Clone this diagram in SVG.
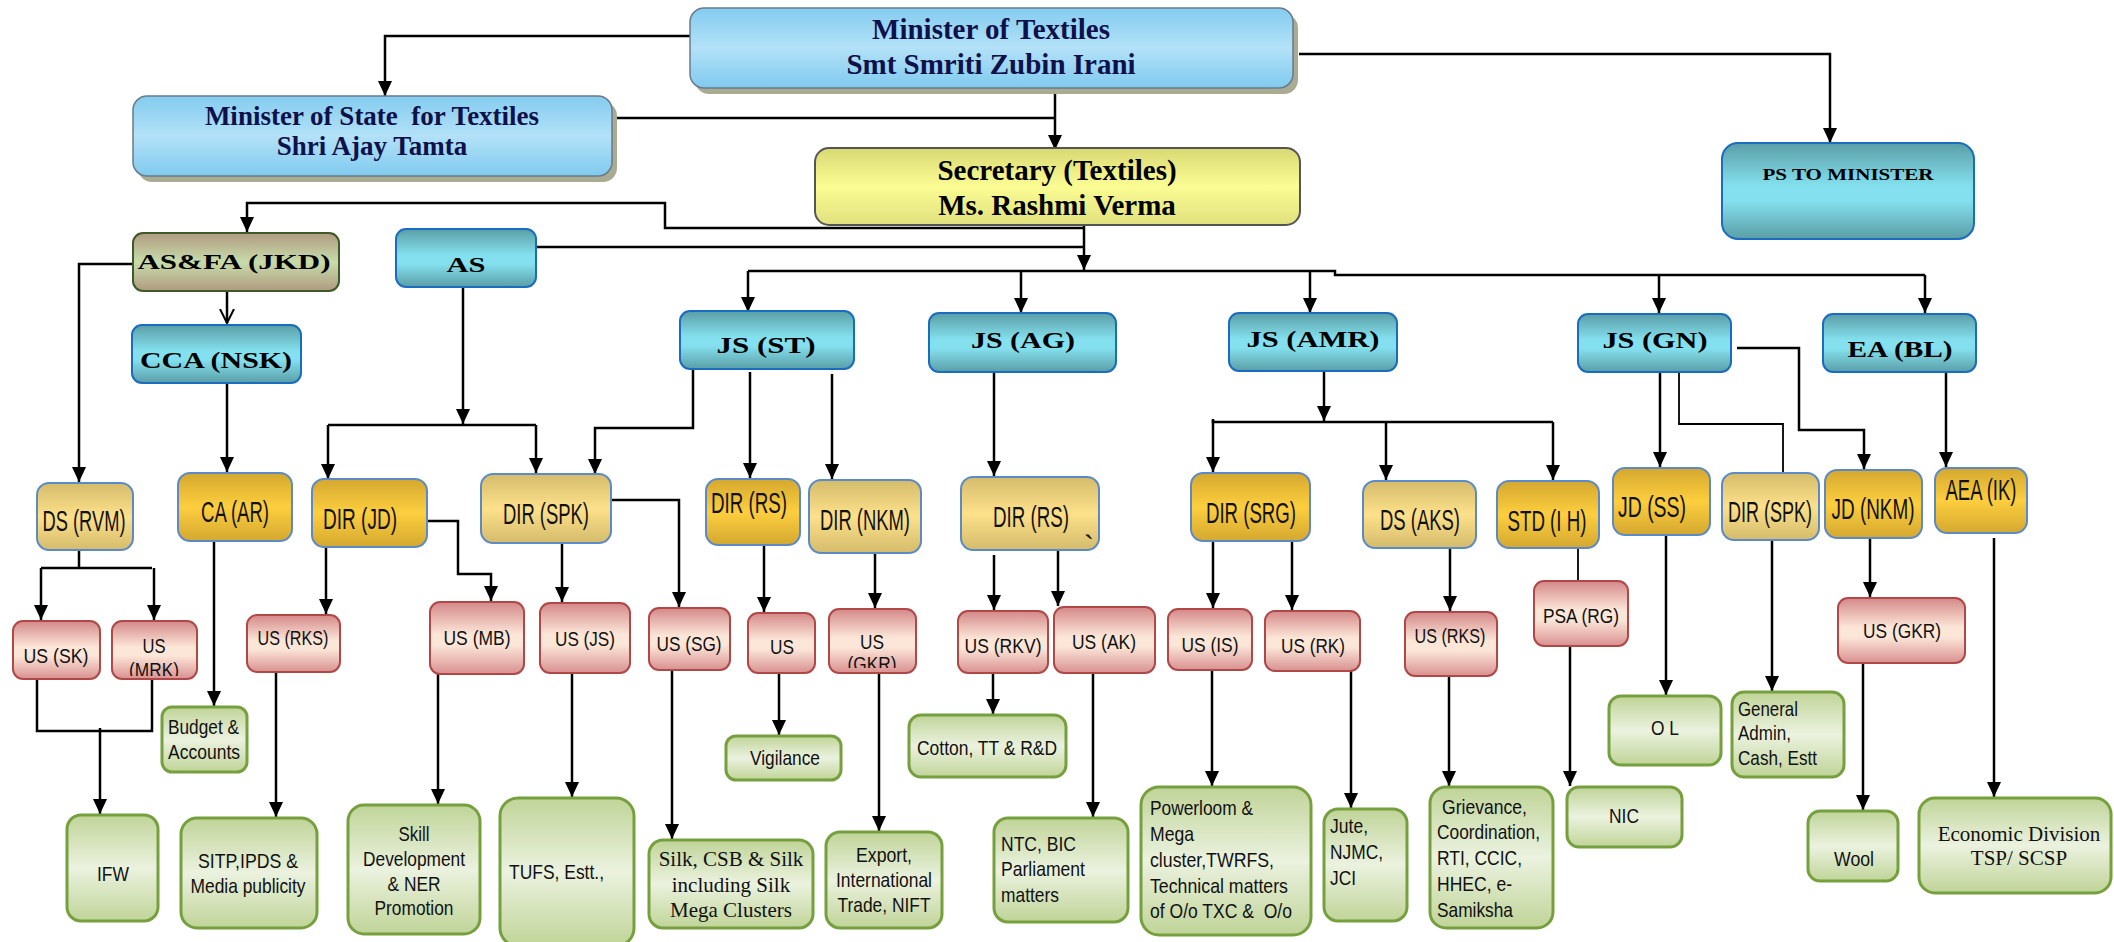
<svg xmlns="http://www.w3.org/2000/svg" width="2114" height="942" viewBox="0 0 2114 942">
<defs>
<linearGradient id="gBlue" x1="0" y1="0" x2="0" y2="1"><stop offset="0" stop-color="#84ccef"/><stop offset="0.5" stop-color="#b3e1f8"/><stop offset="1" stop-color="#80caee"/></linearGradient>
<linearGradient id="gYel" x1="0" y1="0" x2="0" y2="1"><stop offset="0" stop-color="#d9d974"/><stop offset="0.5" stop-color="#fcfc94"/><stop offset="1" stop-color="#e0e07e"/></linearGradient>
<linearGradient id="gTeal" x1="0" y1="0" x2="0" y2="1"><stop offset="0" stop-color="#5a9ea6"/><stop offset="0.45" stop-color="#84e0ee"/><stop offset="0.6" stop-color="#84e0ee"/><stop offset="1" stop-color="#5a9ea6"/></linearGradient>
<linearGradient id="gFa" x1="0" y1="0" x2="0" y2="1"><stop offset="0" stop-color="#b09a80"/><stop offset="0.5" stop-color="#c8dcaa"/><stop offset="1" stop-color="#b09a80"/></linearGradient>
<linearGradient id="gGold" x1="0" y1="0" x2="0" y2="1"><stop offset="0" stop-color="#d4a830"/><stop offset="0.5" stop-color="#fdce3e"/><stop offset="1" stop-color="#d4a830"/></linearGradient>
<linearGradient id="gTan" x1="0" y1="0" x2="0" y2="1"><stop offset="0" stop-color="#d4bc6c"/><stop offset="0.5" stop-color="#fde08a"/><stop offset="1" stop-color="#d4bc6c"/></linearGradient>
<linearGradient id="gPink" x1="0" y1="0" x2="0" y2="1"><stop offset="0" stop-color="#d48888"/><stop offset="0.45" stop-color="#fce6d8"/><stop offset="0.6" stop-color="#fce6d8"/><stop offset="1" stop-color="#d89090"/></linearGradient>
<linearGradient id="gGreen" x1="0" y1="0" x2="0" y2="1"><stop offset="0" stop-color="#c0d498"/><stop offset="0.5" stop-color="#ebf2df"/><stop offset="1" stop-color="#c0d498"/></linearGradient>
<marker id="ah" markerUnits="userSpaceOnUse" markerWidth="16" markerHeight="14" refX="15" refY="7" orient="auto"><path d="M0,0 L15,7 L0,14 z" fill="#000"/></marker>
<marker id="av" markerUnits="userSpaceOnUse" markerWidth="16" markerHeight="16" refX="14" refY="8" orient="auto"><path d="M0,1 L14,8 L0,15" fill="none" stroke="#000" stroke-width="2"/></marker>
<clipPath id="clipMRK"><rect x="112" y="621" width="85" height="55"/></clipPath>
<clipPath id="clipGKR"><rect x="829" y="609" width="87" height="59"/></clipPath>
</defs>
<style>
.c{fill:none;stroke:#000;stroke-width:2.5}
.a{marker-end:url(#ah)}
.thin{stroke-width:1.8}
.sh{fill:#a9ab93}
.blue{fill:url(#gBlue);stroke:#6a7a8a;stroke-width:1.5}
.yel{fill:url(#gYel);stroke:#555;stroke-width:2}
.teal{fill:url(#gTeal);stroke:#1a6cc0;stroke-width:2}
.fa{fill:url(#gFa);stroke:#3d5a28;stroke-width:2}
.gold{fill:url(#gGold);stroke:#5b8ac6;stroke-width:2}
.tan{fill:url(#gTan);stroke:#5b8ac6;stroke-width:2}
.pink{fill:url(#gPink);stroke:#b04848;stroke-width:2}
.green{fill:url(#gGreen);stroke:#76a03e;stroke-width:3}
.tm{font-family:"Liberation Serif","Times New Roman",serif;font-weight:bold;fill:#10104a;text-anchor:middle}
.tt{font-family:"Liberation Serif","Times New Roman",serif;font-weight:bold;fill:#000;text-anchor:middle}
.tg{font-family:"Liberation Sans","Arial",sans-serif;font-size:30px;fill:#111;text-anchor:middle}
.ts{font-family:"Liberation Sans","Arial",sans-serif;font-size:21px;fill:#111}
.mid{text-anchor:middle}
.tsr{font-family:"Liberation Serif","Times New Roman",serif;font-size:21px;fill:#111;text-anchor:middle}
</style>

<g id="connectors">
<path class="c a" d="M690,36 H385 V96"/>
<path class="c a" d="M1299,54 H1830 V143"/>
<path class="c a" d="M1055,88 V150"/>
<path class="c" d="M612,118 H1055"/>
<path class="c a" d="M1084,225 V270"/>
<path class="c a" d="M1084,228 H665 V203 H247 V232"/>
<path class="c" d="M536,247 H1084"/>
<path class="c" d="M748,271 H1335 V275 H1925"/>
<path class="c a" d="M748,271 V312"/>
<path class="c a" d="M1021,271 V313"/>
<path class="c a" d="M1310,271 V313"/>
<path class="c a" d="M1659,275 V313"/>
<path class="c a" d="M1925,275 V313"/>
<path class="c" d="M227,291 V323" marker-end="url(#av)"/>
<path class="c a" d="M133,264 H79 V482"/>
<path class="c a" d="M227,383 V472"/>
<path class="c a" d="M214,541 V706"/>
<path class="c a" d="M463,287 V424"/>
<path class="c" d="M328,425 H536"/>
<path class="c a" d="M328,425 V479"/>
<path class="c a" d="M536,425 V473"/>
<path class="c a" d="M693,369 V428 H595 V474"/>
<path class="c a" d="M750,372 V478"/>
<path class="c a" d="M832,374 V479"/>
<path class="c" d="M79,550 V568 M41,568 H152"/>
<path class="c a" d="M41,568 V620"/>
<path class="c a" d="M154,568 V620"/>
<path class="c" d="M37,679 V731 H152 V679"/>
<path class="c a" d="M100,728 V814"/>
<path class="c a" d="M326,547 V614"/>
<path class="c a" d="M427,521 H458 V574 H491 V601"/>
<path class="c a" d="M276,672 V817"/>
<path class="c a" d="M562,543 V602"/>
<path class="c a" d="M611,500 H679 V607"/>
<path class="c a" d="M438,674 V804"/>
<path class="c a" d="M572,673 V797"/>
<path class="c a" d="M672,670 V839"/>
<path class="c a" d="M764,545 V612"/>
<path class="c a" d="M779,673 V735"/>
<path class="c a" d="M875,553 V608"/>
<path class="c a" d="M879,673 V831"/>
<path class="c a" d="M994,372 V476"/>
<path class="c a" d="M994,555 V610"/>
<path class="c a" d="M1058,548 V606"/>
<path class="c a" d="M993,673 V714"/>
<path class="c a" d="M1093,673 V817"/>
<path class="c a" d="M1324,371 V421"/>
<path class="c" d="M1213,419 V422 H1553"/>
<path class="c a" d="M1213,420 V472"/>
<path class="c a" d="M1386,422 V480"/>
<path class="c a" d="M1553,422 V480"/>
<path class="c a" d="M1213,541 V608"/>
<path class="c a" d="M1292,541 V610"/>
<path class="c a" d="M1212,670 V786"/>
<path class="c a" d="M1351,671 V808"/>
<path class="c a" d="M1450,548 V611"/>
<path class="c a" d="M1449,676 V786"/>
<path class="c thin" d="M1578,548 V581"/>
<path class="c a" d="M1570,646 V786"/>
<path class="c a" d="M1660,372 V467"/>
<path class="c a" d="M1666,535 V695"/>
<path class="c thin" d="M1679,372 V424 H1783 V473"/>
<path class="c a" d="M1772,540 V691"/>
<path class="c a" d="M1737,348 H1799 V430 H1864 V469"/>
<path class="c a" d="M1870,538 V597"/>
<path class="c a" d="M1863,663 V810"/>
<path class="c a" d="M1946,366 V467"/>
<path class="c a" d="M1994,538 V797"/>
</g>

<g id="n-minister"><rect class="sh" x="695" y="14" width="603" height="80" rx="14"/><rect class="blue" x="690" y="8" width="603" height="80" rx="14"/>
<text class="tm" x="991" y="39" font-size="29">Minister of Textiles</text><text class="tm" x="991" y="74" font-size="29">Smt Smriti Zubin Irani</text></g>
<g id="n-mos"><rect class="sh" x="138" y="102" width="479" height="80" rx="14"/><rect class="blue" x="133" y="96" width="479" height="80" rx="14"/>
<text class="tm" x="372" y="125" font-size="27" xml:space="preserve">Minister of State  for Textiles</text><text class="tm" x="372" y="155" font-size="27">Shri Ajay Tamta</text></g>
<g id="n-secretary"><rect class="yel" x="815" y="148" width="485" height="77" rx="14"/>
<text class="tt" x="1057" y="180" font-size="29">Secretary (Textiles)</text><text class="tt" x="1057" y="215" font-size="29">Ms. Rashmi Verma</text></g>
<g id="n-ps"><rect class="teal" x="1722" y="143" width="252" height="96" rx="16"/><text class="tt" x="1848" y="180" font-size="17" textLength="171" lengthAdjust="spacingAndGlyphs">PS TO MINISTER</text></g>
<g id="n-asfa"><rect class="fa" x="133" y="233" width="206" height="58" rx="10"/><text class="tt" x="234" y="269" font-size="22" textLength="193" lengthAdjust="spacingAndGlyphs">AS&amp;FA (JKD)</text></g>
<g id="n-as"><rect class="teal" x="396" y="229" width="140" height="58" rx="10"/><text class="tt" x="466" y="272" font-size="22" textLength="39" lengthAdjust="spacingAndGlyphs">AS</text></g>
<g id="n-cca"><rect class="teal" x="132" y="325" width="169" height="58" rx="10"/><text class="tt" x="216" y="368" font-size="23" textLength="152" lengthAdjust="spacingAndGlyphs">CCA (NSK)</text></g>
<g id="n-js-st"><rect class="teal" x="680" y="311" width="174" height="58" rx="10"/><text class="tt" x="766" y="353" font-size="24" textLength="99" lengthAdjust="spacingAndGlyphs">JS (ST)</text></g>
<g id="n-js-ag"><rect class="teal" x="929" y="313" width="187" height="59" rx="10"/><text class="tt" x="1023" y="348" font-size="24" textLength="104" lengthAdjust="spacingAndGlyphs">JS (AG)</text></g>
<g id="n-js-amr"><rect class="teal" x="1229" y="313" width="168" height="58" rx="10"/><text class="tt" x="1313" y="347" font-size="24" textLength="133" lengthAdjust="spacingAndGlyphs">JS (AMR)</text></g>
<g id="n-js-gn"><rect class="teal" x="1578" y="314" width="153" height="58" rx="10"/><text class="tt" x="1655" y="348" font-size="24" textLength="105" lengthAdjust="spacingAndGlyphs">JS (GN)</text></g>
<g id="n-ea-bl"><rect class="teal" x="1823" y="314" width="153" height="58" rx="10"/><text class="tt" x="1900" y="357" font-size="24" textLength="105" lengthAdjust="spacingAndGlyphs">EA (BL)</text></g>

<g id="n-ds-rvm"><rect class="tan" x="37" y="483" width="96" height="67" rx="12"/><text class="tg" x="84" y="531" textLength="83" lengthAdjust="spacingAndGlyphs">DS (RVM)</text></g>
<g id="n-ca-ar"><rect class="gold" x="178" y="473" width="114" height="68" rx="12"/><text class="tg" x="235" y="522" textLength="68" lengthAdjust="spacingAndGlyphs">CA (AR)</text></g>
<g id="n-dir-jd"><rect class="gold" x="312" y="479" width="115" height="68" rx="12"/><text class="tg" x="360" y="529" textLength="74" lengthAdjust="spacingAndGlyphs">DIR (JD)</text></g>
<g id="n-dir-spk1"><rect class="tan" x="481" y="474" width="130" height="69" rx="12"/><text class="tg" x="546" y="524" textLength="86" lengthAdjust="spacingAndGlyphs">DIR (SPK)</text></g>
<g id="n-dir-rs1"><rect class="gold" x="706" y="479" width="94" height="66" rx="12"/><text class="tg" x="749" y="513" textLength="76" lengthAdjust="spacingAndGlyphs">DIR (RS)</text></g>
<g id="n-dir-nkm"><rect class="tan" x="809" y="480" width="112" height="73" rx="12"/><text class="tg" x="865" y="530" textLength="90" lengthAdjust="spacingAndGlyphs">DIR (NKM)</text></g>
<g id="n-dir-rs2"><rect class="tan" x="961" y="477" width="138" height="73" rx="12"/><text class="tg" x="1031" y="527" textLength="76" lengthAdjust="spacingAndGlyphs">DIR (RS)</text><text class="tg" x="1089" y="556" font-size="14">`</text></g>
<g id="n-dir-srg"><rect class="gold" x="1191" y="473" width="119" height="68" rx="12"/><text class="tg" x="1251" y="523" textLength="90" lengthAdjust="spacingAndGlyphs">DIR (SRG)</text></g>
<g id="n-ds-aks"><rect class="tan" x="1363" y="481" width="113" height="67" rx="12"/><text class="tg" x="1420" y="530" textLength="80" lengthAdjust="spacingAndGlyphs">DS (AKS)</text></g>
<g id="n-std-ih"><rect class="gold" x="1497" y="481" width="102" height="67" rx="12"/><text class="tg" x="1547" y="531" textLength="79" lengthAdjust="spacingAndGlyphs">STD (I H)</text></g>
<g id="n-jd-ss"><rect class="gold" x="1613" y="468" width="97" height="67" rx="12"/><text class="tg" x="1652" y="517" textLength="68" lengthAdjust="spacingAndGlyphs">JD (SS)</text></g>
<g id="n-dir-spk2"><rect class="tan" x="1722" y="473" width="97" height="67" rx="12"/><text class="tg" transform="translate(1770,522) scale(0.6,1)">DIR (SPK)</text></g>
<g id="n-jd-nkm"><rect class="gold" x="1825" y="470" width="97" height="68" rx="12"/><text class="tg" transform="translate(1873,519) scale(0.63,1)">JD (NKM)</text></g>
<g id="n-aea-ik"><rect class="gold" x="1935" y="468" width="92" height="65" rx="12"/><text class="tg" x="1981" y="500" textLength="71" lengthAdjust="spacingAndGlyphs">AEA (IK)</text></g>

<g id="n-us-sk"><rect class="pink" x="13" y="621" width="87" height="58" rx="10"/><text class="ts mid" x="56" y="663" textLength="65" lengthAdjust="spacingAndGlyphs">US (SK)</text></g>
<g id="n-us-mrk"><rect class="pink" x="112" y="621" width="85" height="58" rx="10"/><g clip-path="url(#clipMRK)"><text class="ts mid" x="154" y="653" textLength="23" lengthAdjust="spacingAndGlyphs">US</text><text class="ts mid" x="154" y="677" textLength="50" lengthAdjust="spacingAndGlyphs">(MRK)</text></g></g>
<g id="n-us-rks1"><rect class="pink" x="247" y="615" width="93" height="57" rx="10"/><text class="ts mid" x="293" y="645" textLength="71" lengthAdjust="spacingAndGlyphs">US (RKS)</text></g>
<g id="n-us-mb"><rect class="pink" x="430" y="602" width="94" height="72" rx="10"/><text class="ts mid" x="477" y="645" textLength="67" lengthAdjust="spacingAndGlyphs">US (MB)</text></g>
<g id="n-us-js"><rect class="pink" x="540" y="603" width="90" height="70" rx="10"/><text class="ts mid" x="585" y="646" textLength="60" lengthAdjust="spacingAndGlyphs">US (JS)</text></g>
<g id="n-us-sg"><rect class="pink" x="649" y="608" width="81" height="62" rx="10"/><text class="ts mid" x="689" y="651" textLength="65" lengthAdjust="spacingAndGlyphs">US (SG)</text></g>
<g id="n-us-vig"><rect class="pink" x="748" y="613" width="67" height="60" rx="10"/><text class="ts mid" x="782" y="654" textLength="24" lengthAdjust="spacingAndGlyphs">US</text></g>
<g id="n-us-gkr1"><rect class="pink" x="829" y="609" width="87" height="64" rx="10"/><g clip-path="url(#clipGKR)"><text class="ts mid" x="872" y="649" textLength="24" lengthAdjust="spacingAndGlyphs">US</text><text class="ts mid" x="872" y="671" textLength="49" lengthAdjust="spacingAndGlyphs">(GKR)</text></g></g>
<g id="n-us-rkv"><rect class="pink" x="958" y="611" width="90" height="62" rx="10"/><text class="ts mid" x="1003" y="653" textLength="77" lengthAdjust="spacingAndGlyphs">US (RKV)</text></g>
<g id="n-us-ak"><rect class="pink" x="1054" y="607" width="101" height="66" rx="10"/><text class="ts mid" x="1104" y="649" textLength="64" lengthAdjust="spacingAndGlyphs">US (AK)</text></g>
<g id="n-us-is"><rect class="pink" x="1168" y="609" width="84" height="61" rx="10"/><text class="ts mid" x="1210" y="652" textLength="57" lengthAdjust="spacingAndGlyphs">US (IS)</text></g>
<g id="n-us-rk"><rect class="pink" x="1265" y="611" width="95" height="60" rx="10"/><text class="ts mid" x="1313" y="653" textLength="64" lengthAdjust="spacingAndGlyphs">US (RK)</text></g>
<g id="n-us-rks2"><rect class="pink" x="1405" y="612" width="92" height="64" rx="10"/><text class="ts mid" x="1450" y="643" textLength="71" lengthAdjust="spacingAndGlyphs">US (RKS)</text></g>
<g id="n-psa-rg"><rect class="pink" x="1534" y="581" width="94" height="65" rx="10"/><text class="ts mid" x="1581" y="623" textLength="76" lengthAdjust="spacingAndGlyphs">PSA (RG)</text></g>
<g id="n-us-gkr2"><rect class="pink" x="1838" y="598" width="127" height="65" rx="10"/><text class="ts mid" x="1902" y="638" textLength="78" lengthAdjust="spacingAndGlyphs">US (GKR)</text></g>

<g id="n-budget"><rect class="green" x="162" y="707" width="85" height="65" rx="10"/><text class="ts" x="168" y="734" textLength="71" lengthAdjust="spacingAndGlyphs">Budget &amp;</text><text class="ts" x="168" y="759" textLength="72" lengthAdjust="spacingAndGlyphs">Accounts</text></g>
<g id="n-ifw"><rect class="green" x="67" y="815" width="91" height="106" rx="14"/><text class="ts mid" x="113" y="881" textLength="32" lengthAdjust="spacingAndGlyphs">IFW</text></g>
<g id="n-sitp"><rect class="green" x="181" y="818" width="136" height="110" rx="16"/><text class="ts mid" x="248" y="868" textLength="100" lengthAdjust="spacingAndGlyphs">SITP,IPDS &amp;</text><text class="ts mid" x="248" y="893" textLength="115" lengthAdjust="spacingAndGlyphs">Media publicity</text></g>
<g id="n-skill"><rect class="green" x="348" y="805" width="132" height="129" rx="16"/><text class="ts mid" x="414" y="841" textLength="31" lengthAdjust="spacingAndGlyphs">Skill</text><text class="ts mid" x="414" y="866" textLength="102" lengthAdjust="spacingAndGlyphs">Development</text><text class="ts mid" x="414" y="891" textLength="53" lengthAdjust="spacingAndGlyphs">&amp; NER</text><text class="ts mid" x="414" y="915" textLength="79" lengthAdjust="spacingAndGlyphs">Promotion</text></g>
<g id="n-tufs"><rect class="green" x="500" y="798" width="134" height="148" rx="18"/><text class="ts" x="509" y="879" textLength="95" lengthAdjust="spacingAndGlyphs">TUFS, Estt.,</text></g>
<g id="n-silk"><rect class="green" x="649" y="840" width="164" height="88" rx="14"/><text class="tsr" x="731" y="866">Silk, CSB &amp; Silk</text><text class="tsr" x="731" y="892">including Silk</text><text class="tsr" x="731" y="917">Mega Clusters</text></g>
<g id="n-vigilance"><rect class="green" x="726" y="736" width="115" height="44" rx="10"/><text class="ts mid" x="785" y="765" textLength="70" lengthAdjust="spacingAndGlyphs">Vigilance</text></g>
<g id="n-export"><rect class="green" x="826" y="832" width="116" height="96" rx="14"/><text class="ts mid" x="884" y="862" textLength="56" lengthAdjust="spacingAndGlyphs">Export,</text><text class="ts mid" x="884" y="887" textLength="96" lengthAdjust="spacingAndGlyphs">International</text><text class="ts mid" x="884" y="912" textLength="93" lengthAdjust="spacingAndGlyphs">Trade, NIFT</text></g>
<g id="n-cotton"><rect class="green" x="909" y="715" width="157" height="62" rx="12"/><text class="ts mid" x="987" y="755" textLength="140" lengthAdjust="spacingAndGlyphs">Cotton, TT &amp; R&amp;D</text></g>
<g id="n-ntc"><rect class="green" x="994" y="818" width="134" height="104" rx="14"/><text class="ts" x="1001" y="851" textLength="75" lengthAdjust="spacingAndGlyphs">NTC, BIC</text><text class="ts" x="1001" y="876" textLength="84" lengthAdjust="spacingAndGlyphs">Parliament</text><text class="ts" x="1001" y="902" textLength="58" lengthAdjust="spacingAndGlyphs">matters</text></g>
<g id="n-powerloom"><rect class="green" x="1141" y="787" width="170" height="148" rx="18"/><text class="ts" x="1150" y="815" textLength="103" lengthAdjust="spacingAndGlyphs">Powerloom &amp;</text><text class="ts" x="1150" y="841" textLength="44" lengthAdjust="spacingAndGlyphs">Mega</text><text class="ts" x="1150" y="867" textLength="124" lengthAdjust="spacingAndGlyphs">cluster,TWRFS,</text><text class="ts" x="1150" y="893" textLength="138" lengthAdjust="spacingAndGlyphs">Technical matters</text><text class="ts" x="1150" y="918" textLength="142" lengthAdjust="spacingAndGlyphs" xml:space="preserve">of O/o TXC &amp;  O/o</text></g>
<g id="n-jute"><rect class="green" x="1324" y="809" width="83" height="112" rx="14"/><text class="ts" x="1330" y="833" textLength="38" lengthAdjust="spacingAndGlyphs">Jute,</text><text class="ts" x="1330" y="859" textLength="53" lengthAdjust="spacingAndGlyphs">NJMC,</text><text class="ts" x="1330" y="885" textLength="26" lengthAdjust="spacingAndGlyphs">JCI</text></g>
<g id="n-grievance"><rect class="green" x="1430" y="787" width="123" height="141" rx="16"/><text class="ts" x="1442" y="814" textLength="85" lengthAdjust="spacingAndGlyphs">Grievance,</text><text class="ts" x="1437" y="839" textLength="103" lengthAdjust="spacingAndGlyphs">Coordination,</text><text class="ts" x="1437" y="865" textLength="85" lengthAdjust="spacingAndGlyphs">RTI, CCIC,</text><text class="ts" x="1437" y="891" textLength="75" lengthAdjust="spacingAndGlyphs">HHEC, e-</text><text class="ts" x="1437" y="917" textLength="76" lengthAdjust="spacingAndGlyphs">Samiksha</text></g>
<g id="n-nic"><rect class="green" x="1567" y="787" width="115" height="60" rx="12"/><text class="ts mid" x="1624" y="823" textLength="30" lengthAdjust="spacingAndGlyphs">NIC</text></g>
<g id="n-ol"><rect class="green" x="1609" y="696" width="112" height="69" rx="12"/><text class="ts mid" x="1665" y="735" textLength="28" lengthAdjust="spacingAndGlyphs">O L</text></g>
<g id="n-general"><rect class="green" x="1732" y="692" width="112" height="85" rx="12"/><text class="ts" x="1738" y="716" textLength="60" lengthAdjust="spacingAndGlyphs">General</text><text class="ts" x="1738" y="740" textLength="53" lengthAdjust="spacingAndGlyphs">Admin,</text><text class="ts" x="1738" y="765" textLength="79" lengthAdjust="spacingAndGlyphs">Cash, Estt</text></g>
<g id="n-wool"><rect class="green" x="1808" y="811" width="90" height="70" rx="12"/><text class="ts mid" x="1854" y="866" textLength="40" lengthAdjust="spacingAndGlyphs">Wool</text></g>
<g id="n-economic"><rect class="green" x="1919" y="798" width="192" height="95" rx="16"/><text class="tsr" x="2019" y="841" font-size="21.5">Economic Division</text><text class="tsr" x="2019" y="865" font-size="21.5">TSP/ SCSP</text></g>
</svg>
